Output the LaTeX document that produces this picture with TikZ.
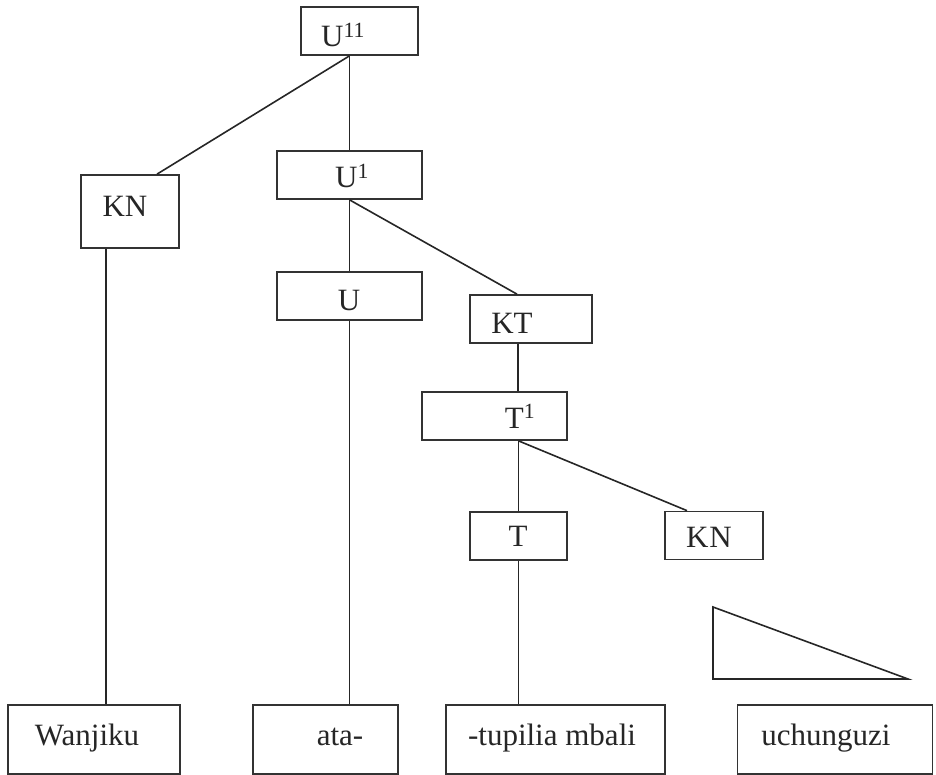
\documentclass[tikz,border=0pt]{standalone}
\usepackage{fontspec}
\setmainfont{Liberation Serif}
\begin{document}
\begin{tikzpicture}[x=1pt,y=-1pt,
  box/.style={draw=black!80, line width=1.7pt, inner sep=0pt},
  lbl/.style={anchor=base, inner sep=0pt, text=black!85,
              font=\fontsize{31}{36}\selectfont},
  edge/.style={draw=black!85, line width=1.6pt}]
\useasboundingbox (0,0) rectangle (936,775);

% phrase-structure boxes (centre, width, height in px)
\node[box, minimum width=117, minimum height=48] (u11) at (359.5,31)  {};
\node[box, minimum width=98,  minimum height=73] (kn1) at (130,211.5) {};
\node[box, minimum width=145, minimum height=48] (u1)  at (349.5,175) {};
\node[box, minimum width=145, minimum height=48] (u)   at (349.5,296) {};
\node[box, minimum width=122, minimum height=48] (kt)  at (531,319)   {};
\node[box, minimum width=145, minimum height=48] (t1)  at (494.5,416) {};
\node[box, minimum width=97,  minimum height=48] (t)   at (518.5,536) {};
\node[box, minimum width=98,  minimum height=48] (kn2) at (714,535.5) {};

% word boxes along the bottom
\node[box, minimum width=172, minimum height=69] (wan) at (94,739.5)  {};
\node[box, minimum width=145, minimum height=69] (ata) at (325.5,739.5) {};
\node[box, minimum width=219, minimum height=69] (tup) at (555.5,739.5) {};
\node[box, minimum width=195, minimum height=69] (uch) at (835,739.5)  {};

% labels
\node[lbl] (u11t) at (343,47)   {U\textsuperscript{11}};
\node[lbl] (kn1t) at (125,217)  {KN};
\node[lbl] (u1t)  at (352,188)  {U\textsuperscript{1}};
\node[lbl] (ut)   at (349,310)  {U};
\node[lbl] (ktt)  at (512,333)  {KT};
\node[lbl] (t1t)  at (520,428)  {T\textsuperscript{1}};
\node[lbl] (tt)   at (518,546)  {T};
\node[lbl] (kn2t) at (709,547)  {K\kern1pt N};
\node[lbl] (want) at (87,745)   {Wanjiku};
\node[lbl] (atat) at (340,745)  {ata-};
\node[lbl] (tupt) at (552,745)  {-tupilia mbali};
\node[lbl] (ucht) at (826,745)  {uchunguzi};

% branching points
\coordinate (j0) at (u1.north |- u11.south);
\coordinate (j2) at (t.north |- t1.south);

% branches
\path[edge] (j0) -- (u1.north);
\path[edge] (j0) -- ([xshift=27]kn1.north);
\path[edge] (u1.south) -- (u.north);
\path[edge] (u1.south) -- ([xshift=-14]kt.north);
\path[edge] (u.south) -- (u.south |- ata.north);
\path[edge] ([xshift=-24]kn1.south) -- ([xshift=-24]kn1.south |- wan.north);
\path[edge] ([xshift=-13]kt.south) -- ([xshift=-13]kt.south |- t1.north);
\path[edge] (j2) -- (t.north);
\path[edge] (j2) -- ([xshift=-27]kn2.north);
\path[edge] (t.south) -- (t.south |- tup.north);

% triangle over the noun phrase
\coordinate (tra) at (713,607);
\coordinate (trb) at (713,679);
\coordinate (trc) at (908,679);
\path[edge, line join=miter] (tra) -- (trb) -- (trc) -- cycle;
\end{tikzpicture}
\end{document}
